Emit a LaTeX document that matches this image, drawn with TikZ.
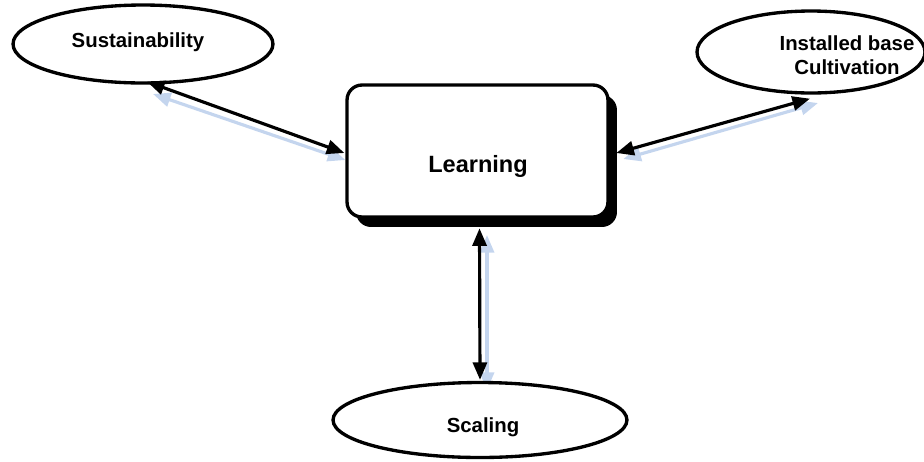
\documentclass[tikz,border=0pt]{standalone}
\usepackage{fontspec}
\setmainfont{Liberation Sans}
\usetikzlibrary{shapes.geometric,arrows.meta,calc}
\definecolor{shadowblue}{RGB}{196,213,238}
\begin{document}
\begin{tikzpicture}[x=0.02cm,y=-0.02cm,
  oval/.style={ellipse,draw,line width=1.9pt,fill=white,inner sep=0pt},
  lbl/.style={font=\bfseries\fontsize{11.6}{13.6}\selectfont,align=center,inner sep=0pt},
  boxshape/.style={rectangle,rounded corners=0.3cm,minimum width=5.22cm,minimum height=2.64cm,inner sep=0pt},
  link/.style={line width=1.8pt,{Triangle[length=10pt,width=8pt]}-{Triangle[length=10pt,width=8pt]}},
  linkshadow/.style={link,draw=shadowblue,fill=shadowblue,line width=1.8pt}]
\useasboundingbox (0,0) rectangle (924,461);

% central box with its drop shadow
\node[boxshape,fill=black] (learnshadow) at (486.5,161) {};
\node[boxshape,draw,fill=white,line width=1.9pt] (learn) at (477.5,151) {};
\node[font=\bfseries\fontsize{13.4}{16}\selectfont,inner sep=0pt] (learnlbl) at (478,166) {Learning};

% shadows of the connectors
\draw[linkshadow] ($(learn.west)+(0,9)$) -- ($(147,87)+(6,7)$);
\draw[linkshadow] ($(learnshadow.east)+(6,-2)$) -- ($(810,97)+(8,6)$);
\draw[linkshadow] (487,235) -- (487,390);

\node[oval,minimum width=5.2cm,minimum height=1.56cm] (sus) at (143,44) {};
\node[lbl] (suslbl) at (138,42) {Sustainability};

\node[oval,minimum width=4.56cm,minimum height=1.64cm] (inst) at (811,52) {};
\node[lbl] (instlbl) at (847,55) {Installed base\\Cultivation};

\node[oval,minimum width=5.88cm,minimum height=1.5cm] (scal) at (480,420) {};
\node[lbl] (scallbl) at (483,427) {Scaling};

% connectors
\draw[link] ($(sus.south)+(4,-3)$) -- ($(learn.west)+(-1,2)$);
\draw[link] ($(learnshadow.east)+(-1,-8)$) -- ($(inst.south)+(-1,4)$);
\draw[link] ($(learnshadow.south)+(-7,1)$) -- ($(scal.north)+(0,-1)$);
\end{tikzpicture}
\end{document}
